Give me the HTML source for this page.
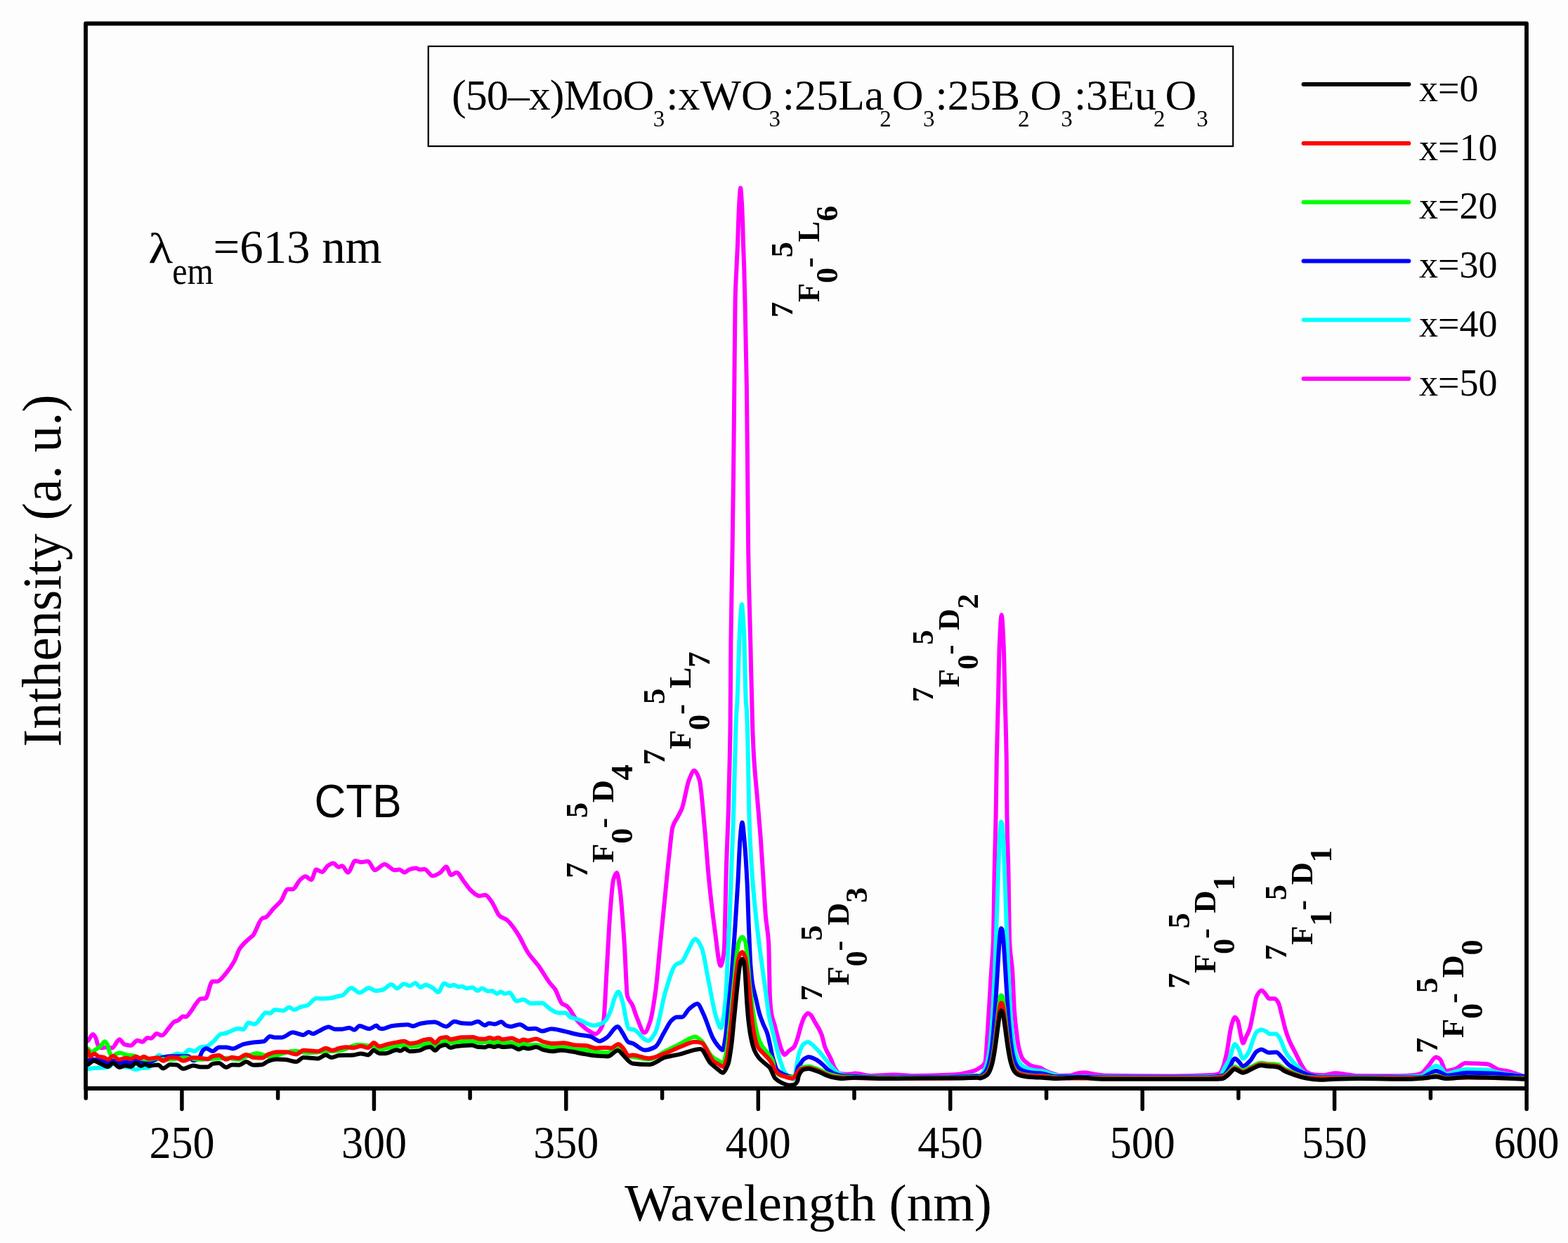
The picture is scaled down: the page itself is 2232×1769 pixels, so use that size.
<!DOCTYPE html>
<html><head><meta charset="utf-8"><title>Excitation spectra</title>
<style>
html,body{margin:0;padding:0;background:#fdfdfd;}
svg{display:block;}
text{font-family:"Liberation Serif","Times New Roman",serif;fill:#000;}
.pl{font-weight:bold;}
.sb{font-size:33px;}
.cv path{fill:none;stroke-width:6;stroke-linejoin:round;stroke-linecap:round;}
</style></head>
<body>
<svg width="2232" height="1769" viewBox="0 0 2232 1769">
<rect width="2232" height="1769" fill="#fdfdfd"/>
<g class="cv">
<path d="M123.5 1482C124 1481.7 124.6 1481.6 125.1 1481.2C127.5 1479.6 129.8 1472 132.2 1472C133.6 1472 134.9 1474.6 136.3 1477.1C137.3 1479 138.4 1485.9 139.4 1487.3C141.1 1489.6 142.8 1491.4 144.5 1491.4C146.5 1491.4 148.6 1490.4 150.6 1490.4C153.7 1490.4 156.7 1491.4 159.8 1491.4C163.2 1491.4 166.6 1479.2 170 1479.2C172.4 1479.2 174.7 1485.6 177.1 1486.3C180.2 1487.2 183.2 1487.9 186.3 1487.9C189.4 1487.9 192.4 1480.7 195.5 1480.7C197.9 1480.7 200.3 1482.8 202.7 1482.8C205.1 1482.8 207.4 1477.1 209.8 1477.1C211.5 1477.1 213.2 1477.7 214.9 1477.7C217.6 1477.7 220.4 1471 223.1 1471C225.5 1471 227.8 1473.6 230.2 1473.6C233.6 1473.6 237 1466.6 240.4 1462.9C243.1 1459.9 245.9 1454.7 248.6 1453.7C250 1453.2 251.3 1453.2 252.7 1452.7C255.4 1451.8 258.1 1446.5 260.8 1446.5C262.2 1446.5 263.5 1447 264.9 1447C266.9 1447 269 1442.9 271 1440.4C273.7 1437 276.5 1431.6 279.2 1428.2C281.2 1425.6 283.3 1421.8 285.3 1421.5C287.7 1421.2 290 1421.3 292.4 1421C295.7 1420.6 299 1396.8 302.3 1396.8C304.5 1396.8 306.8 1396.8 309 1396.8C313.1 1396.8 317.1 1390.2 321.2 1385.7C325.3 1381.1 329.4 1375.3 333.5 1367.9C336.1 1363.2 338.6 1354 341.2 1350.1C345.3 1343.9 349.4 1340.7 353.5 1336.8C355.7 1334.7 357.9 1333.6 360.1 1331.2C364.6 1326.2 369 1308.4 373.5 1306.7C375 1306.1 376.4 1306.1 377.9 1305.6C381.6 1304.2 385.3 1297.3 389 1293.4C392.7 1289.5 396.3 1286.8 400 1282.1C403.2 1277.9 406.5 1265.4 409.7 1265.4C412 1265.4 414.4 1265.4 416.7 1265.4C420.4 1265.4 424.1 1254.4 427.8 1251.5C430.1 1249.7 432.5 1247.3 434.8 1247.3C437.6 1247.3 440.3 1252.2 443.1 1252.2C445.4 1252.2 447.8 1237.6 450.1 1237.6C452.9 1237.6 455.6 1241 458.4 1241C461.2 1241 464 1233.8 466.8 1232C469.3 1230.4 471.9 1228.5 474.4 1228.5C477 1228.5 479.5 1234.1 482.1 1234.1C483.7 1234.1 485.4 1232.3 487 1232.3C489.8 1232.3 492.5 1241.7 495.3 1241.7C498.8 1241.7 502.2 1225 505.7 1225C508.5 1225 511.3 1227.1 514.1 1227.1C517.3 1227.1 520.6 1225.7 523.8 1225.7C527.1 1225.7 530.3 1238.3 533.6 1238.3C538.2 1238.3 542.9 1229.9 547.5 1229.9C552.1 1229.9 556.8 1238.3 561.4 1238.3C563.7 1238.3 566.1 1237.6 568.4 1237.6C570.9 1237.6 573.5 1241.7 576 1241.7C578.1 1241.7 580.2 1238.3 582.3 1237.6C585.5 1236.5 588.8 1235.5 592 1235.5C593.9 1235.5 595.7 1237.6 597.6 1237.6C599.9 1237.6 602.2 1236.9 604.5 1236.9C608.2 1236.9 612 1246.6 615.7 1246.6C619.4 1246.6 623.1 1244 626.8 1241.7C629.6 1240 632.3 1233.4 635.1 1233.4C637.4 1233.4 639.8 1245.2 642.1 1245.2C644.7 1245.2 647.2 1241.7 649.8 1241.7C653.3 1241.7 656.7 1250 660.2 1254.3C663.4 1258.3 666.7 1263.9 669.9 1266.8C674.1 1270.5 678.3 1275.1 682.5 1275.1C685.3 1275.1 688 1273.7 690.8 1273.7C693.9 1273.7 696.9 1279.4 700 1283.5C703.7 1288.4 707.5 1300.4 711.2 1303.6C714.8 1306.6 718.4 1306.9 722 1309.6C727.2 1313.6 732.4 1322 737.6 1330C742.4 1337.3 747.2 1349.3 752 1356.4C756.8 1363.5 761.6 1367.9 766.4 1374.4C772 1382 777.5 1392.3 783.1 1399.5C785.5 1402.6 787.9 1404.4 790.3 1408C793.5 1412.8 796.8 1425.7 800 1428.3C802.4 1430.2 804.7 1430.3 807.1 1432C811.9 1435.5 816.7 1447 821.5 1452.3C826.3 1457.6 831.1 1462.4 835.9 1465.5C839.9 1468.1 843.9 1471.5 847.9 1471.5C850.3 1471.5 852.7 1468 855.1 1464.3C856.4 1462.3 857.7 1459.7 859 1453.9C860.6 1446.8 862.2 1404.1 863.8 1378C865.4 1352.5 866.9 1318.8 868.5 1299C870.1 1279.2 871.6 1256.8 873.2 1251.6C874.8 1246.3 876.4 1242.1 878 1242.1C879.6 1242.1 881.1 1255.8 882.7 1267.4C884.8 1282.9 886.9 1315.1 889 1346.4C890.3 1366.3 891.7 1412.8 893 1417.5C895.4 1425.8 897.7 1425 900.1 1430.2C902.2 1434.8 904.3 1442.7 906.4 1447.6C910.1 1456.3 913.8 1469.7 917.5 1469.7C920.1 1469.7 922.8 1461.7 925.4 1453.9C928 1446.1 930.7 1428.7 933.3 1409.6C935.4 1394.3 937.5 1367.5 939.6 1346.4C941.7 1325.3 943.8 1304.3 945.9 1283.2C948 1262.1 950.1 1238.8 952.2 1220C954 1204.2 955.7 1182.9 957.5 1177C959.9 1168.9 962.4 1167.2 964.8 1162.4C966.8 1158.5 968.7 1155.8 970.7 1150.7C974.1 1141.9 977.5 1117.9 980.9 1109.7C983.4 1103.8 985.8 1096.6 988.3 1096.6C990.7 1096.6 993.2 1102.4 995.6 1109.7C998 1117 1000.5 1151.4 1002.9 1177C1004.8 1197.3 1006.8 1227.5 1008.7 1247.2C1011.6 1277.1 1014.6 1302.2 1017.5 1323.3C1020.3 1343.2 1023 1374.6 1025.8 1374.6C1027.4 1374.6 1029.1 1366.4 1030.7 1352.6C1031.8 1343.3 1032.9 1264.1 1034 1230C1034.9 1201.1 1035.9 1185.2 1036.8 1155C1037.4 1134.5 1038.1 1109.3 1038.7 1080C1039 1067.7 1039.2 1057.9 1039.5 1037.5C1039.8 1014.6 1040.1 938.3 1040.4 911.7C1041.1 849.7 1041.8 831.8 1042.5 785.8C1043 752.9 1043.5 719.4 1044 678C1044.4 642.1 1044.9 594 1045.3 552C1045.7 510 1046.2 443.7 1046.6 426.2C1047.2 400.6 1047.9 394.7 1048.5 380C1049 367.7 1049.6 358.3 1050.1 344.6C1050.4 336.1 1050.8 323.4 1051.1 315C1051.6 303.3 1052 291.8 1052.5 285C1053 277.2 1053.6 267.5 1054.1 267.5C1054.6 267.5 1055.2 277.2 1055.7 285C1056.2 291.8 1056.6 302 1057.1 315C1057.4 322.4 1057.6 336.1 1057.9 344.6C1058.3 358.4 1058.8 366.1 1059.2 380C1059.6 392.8 1060 409 1060.4 426.2C1061.2 462 1062.1 494.9 1062.9 552C1063.3 581.7 1063.8 633.7 1064.2 678C1064.5 712.1 1064.9 764.1 1065.2 785.8C1066.2 851 1067.2 870.4 1068.2 911.7C1069.2 954.3 1070.3 1009.3 1071.3 1037.5C1072 1055.7 1072.6 1069.4 1073.3 1080C1074.9 1104.9 1076.4 1117.3 1078 1136C1079.6 1154.7 1081.1 1171.2 1082.7 1192.3C1083.9 1208.9 1085.2 1229.4 1086.4 1248.4C1087.6 1266.9 1088.8 1290.7 1090 1304.6C1091.4 1320.9 1092.8 1319.9 1094.2 1343C1094.8 1352.9 1095.4 1410.1 1096 1420C1096.8 1433.8 1097.7 1440.2 1098.5 1444.6C1099.9 1451.8 1101.2 1453.6 1102.6 1458.5C1104.2 1464.4 1105.9 1471.5 1107.5 1477.3C1109.1 1483.1 1110.8 1489.9 1112.4 1493.7C1113.8 1496.9 1115.1 1501.1 1116.5 1501.1C1118.4 1501.1 1120.4 1497.8 1122.3 1496.2C1125 1493.9 1127.8 1493.1 1130.5 1489.6C1132.1 1487.5 1133.8 1482.2 1135.4 1477.3C1137 1472.4 1138.7 1464.2 1140.3 1459.3C1141.9 1454.4 1143.6 1449.3 1145.2 1447C1146.8 1444.7 1148.5 1442.1 1150.1 1442.1C1151.5 1442.1 1152.8 1443.4 1154.2 1444.6C1156.1 1446.3 1158 1451.2 1159.9 1454.4C1161.8 1457.7 1163.8 1460.5 1165.7 1464.2C1167.1 1466.8 1168.4 1469.4 1169.8 1473.2C1171.3 1477.3 1172.8 1486 1174.3 1490C1177.1 1497.5 1179.8 1500.7 1182.6 1506.7C1184.7 1511.2 1186.8 1518.3 1188.9 1521.3C1191 1524.2 1193 1527.1 1195.1 1527.6C1197.9 1528.3 1200.7 1528.8 1203.5 1528.8C1206.3 1528.8 1209.2 1528.6 1212 1528.4C1213.8 1528.3 1215.6 1527.5 1217.4 1527.5C1224.4 1527.5 1231.3 1531 1238.3 1531C1249.9 1531 1261.4 1529.6 1273 1529.6C1282.3 1529.6 1291.6 1531 1300.9 1531C1319.4 1531 1338 1530.5 1356.5 1529.6C1365.8 1529.2 1375.1 1527.3 1384.4 1524.7C1388.1 1523.7 1391.8 1521.7 1395.5 1519.1C1397.7 1517.5 1400 1516.8 1402.2 1512C1403.3 1509.6 1404.5 1486.5 1405.6 1471C1407.4 1446 1409.3 1410.8 1411.1 1382C1412 1367.3 1413 1363.1 1413.9 1339C1414.4 1325.2 1415 1269.7 1415.5 1244C1416.2 1210.2 1416.9 1196.1 1417.6 1160C1418 1139.4 1418.4 1099.2 1418.8 1078.7C1419.5 1044.6 1420.1 1026.4 1420.8 999.2C1421.4 973.4 1422.1 934 1422.7 919.6C1423.7 896.8 1424.7 875 1425.7 875C1426.7 875 1427.7 897.3 1428.7 919.6C1429.4 934.5 1430 972.7 1430.7 999.2C1431.4 1025.7 1432 1035.8 1432.7 1078.7C1432.9 1093.7 1433.2 1144.9 1433.4 1160C1434.1 1205.3 1434.8 1210.2 1435.5 1244C1436 1269.7 1436.6 1328.2 1437.1 1339C1438.4 1365.9 1439.8 1363.1 1441.1 1382C1442.1 1395.7 1443 1427.3 1444 1440C1444.9 1451.9 1445.8 1459.2 1446.7 1466.7C1447.8 1475.8 1448.9 1485.2 1450 1490C1451.9 1498.1 1453.7 1503.9 1455.6 1506.7C1457.1 1508.9 1458.5 1510.1 1460 1511.3C1462.8 1513.6 1465.5 1515.9 1468.3 1516.9C1472.5 1518.4 1476.7 1518.3 1480.9 1519.7C1483.2 1520.5 1485.5 1522.7 1487.8 1523.8C1491.5 1525.5 1495.3 1526.8 1499 1528C1502.2 1529.1 1505.5 1530.8 1508.7 1530.8C1513.3 1530.8 1518 1530.8 1522.6 1530.8C1525.9 1530.8 1529.1 1528.6 1532.4 1528C1536.1 1527.3 1539.8 1526.6 1543.5 1526.6C1548.1 1526.6 1552.8 1528.1 1557.4 1528.7C1564.4 1529.6 1571.3 1530.7 1578.3 1530.8C1608.4 1531.3 1638.6 1531.5 1668.7 1531.5C1687.3 1531.5 1705.8 1531.1 1724.4 1530.1C1728.1 1529.9 1731.8 1529.4 1735.5 1528C1737 1527.4 1738.5 1524.4 1740 1521.3C1742 1517.2 1744 1508.3 1746 1499.4C1748.3 1489.2 1750.6 1467.2 1752.9 1459.6C1754.6 1454.1 1756.2 1447.7 1757.9 1447.7C1759.2 1447.7 1760.6 1450 1761.9 1452.6C1763.2 1455.2 1764.6 1466 1765.9 1471.5C1767.1 1476.3 1768.2 1484.5 1769.4 1484.5C1770.9 1484.5 1772.3 1478.6 1773.8 1475.5C1775.5 1472 1777.1 1469.5 1778.8 1464.6C1780.5 1459.7 1782.1 1449.5 1783.8 1441.7C1785.5 1433.9 1787.1 1421.1 1788.8 1417.8C1791.1 1413.2 1793.4 1409.4 1795.7 1409.4C1797.4 1409.4 1799 1412.1 1800.7 1413.8C1802.7 1415.9 1804.7 1421.3 1806.7 1421.3C1809.3 1421.3 1812 1421.3 1814.6 1421.3C1816.3 1421.3 1817.9 1424 1819.6 1426.8C1821.3 1429.6 1822.9 1438.4 1824.6 1444.7C1826.3 1451 1827.9 1459 1829.6 1464.6C1831.6 1471.2 1833.5 1476.8 1835.5 1481.5C1838.5 1488.6 1841.5 1493.4 1844.5 1499.4C1847.1 1504.7 1849.8 1510.9 1852.4 1515.3C1854.7 1519.2 1857.1 1523.8 1859.4 1525.3C1862.7 1527.5 1866.1 1528.9 1869.4 1529.3C1874.4 1529.8 1879.3 1530.2 1884.3 1530.2C1889.5 1530.2 1894.8 1527.3 1900 1527.3C1904.9 1527.3 1909.9 1528.3 1914.8 1528.9C1920.8 1529.6 1926.9 1531 1932.9 1531C1952.4 1531.2 1971.8 1531.2 1991.3 1531.2C1998.3 1531.2 2005.2 1530.9 2012.2 1530.3C2015.9 1530 2019.6 1529 2023.3 1527.5C2026.6 1526.1 2029.8 1520.6 2033.1 1517C2036.8 1512.9 2040.5 1504.5 2044.2 1504.5C2046.1 1504.5 2047.9 1505.9 2049.8 1507.3C2052.6 1509.4 2055.3 1524 2058.1 1524C2062.7 1524 2067.4 1522.6 2072 1521.2C2076.6 1519.8 2081.3 1512.9 2085.9 1512.9C2091.5 1512.9 2097 1513.3 2102.6 1513.6C2107.2 1513.8 2111.9 1513.9 2116.5 1514.3C2122.5 1514.8 2128.6 1521.4 2134.6 1522.6C2137.9 1523.3 2141.1 1523.4 2144.4 1524C2149 1524.9 2153.7 1526.8 2158.3 1528.2C2162 1529.3 2165.7 1530.5 2169.4 1531.7" stroke="#ff00ff"/>
<path d="M123.5 1521C124 1521 124.6 1521 125.1 1521C128.5 1521 131.9 1520.2 135.3 1520C138.7 1519.8 142.1 1519.8 145.5 1519.5C148.9 1519.2 152.3 1518.9 155.7 1518C158.1 1517.4 160.5 1511.8 162.9 1511.8C164.9 1511.8 167 1513.1 169 1513.9C171.7 1515 174.4 1517.3 177.1 1518C179.8 1518.7 182.6 1518.9 185.3 1519.5C188 1520.1 190.8 1522 193.5 1522C196.2 1522 198.9 1520.2 201.6 1520C205 1519.7 208.4 1519.8 211.8 1519.5C213.9 1519.3 215.9 1514.4 218 1511.8C220.7 1508.4 223.4 1501.6 226.1 1501.6C228.1 1501.6 230.2 1504.7 232.2 1504.7C235.6 1504.7 239 1503.9 242.4 1503.2C245.8 1502.5 249.3 1499.6 252.7 1499.6C255.4 1499.6 258.1 1500.6 260.8 1500.6C263.5 1500.6 266.3 1494 269 1494C271.7 1494 274.4 1496 277.1 1496C279.8 1496 282.6 1491 285.3 1490.4C288 1489.8 290.8 1490 293.5 1489.4C296.9 1488.7 300.3 1485 303.7 1482.2C307.1 1479.4 310.5 1473.2 313.9 1472C317 1470.9 320 1470.9 323.1 1470C325.4 1469.3 327.7 1467.6 330 1466.7C333.1 1465.5 336.1 1463.7 339.2 1463.7C341.6 1463.7 343.9 1465.2 346.3 1465.2C348.7 1465.2 351.1 1455.5 353.5 1455.5C356.6 1455.5 359.6 1457.6 362.7 1457.6C365.4 1457.6 368.1 1452.3 370.8 1449.4C373.2 1446.8 375.6 1441.2 378 1441.2C380 1441.2 382.1 1442.2 384.1 1442.2C386.5 1442.2 388.8 1437.1 391.2 1437.1C395.3 1437.1 399.4 1438.2 403.5 1438.2C406.2 1438.2 408.9 1433.6 411.6 1433.6C414 1433.6 416.4 1437.1 418.8 1437.1C421.9 1437.1 424.9 1434 428 1433.1C431 1432.2 434.1 1432 437.1 1431C441.5 1429.5 446 1420.8 450.4 1420.8C453.1 1420.8 455.9 1421.3 458.6 1421.3C463 1421.3 467.4 1420.8 471.8 1420.3C474.9 1419.9 477.9 1418.5 481 1417.8C483 1417.4 485.1 1417.3 487.1 1416.7C491.4 1415.5 495.7 1405.9 500 1405.9C503.9 1405.9 507.9 1412.8 511.8 1412.8C516.2 1412.8 520.6 1405.9 525 1405.9C528.3 1405.9 531.5 1410 534.8 1410C538 1410 541.3 1409.4 544.5 1408.7C548.7 1407.8 552.8 1401 557 1401C559.8 1401 562.6 1406.6 565.4 1406.6C568.6 1406.6 571.9 1400.3 575.1 1400.3C577.9 1400.3 580.7 1403.1 583.5 1403.1C586 1403.1 588.6 1398.9 591.1 1398.9C593.7 1398.9 596.2 1405.2 598.8 1405.2C601.1 1405.2 603.4 1401.7 605.7 1401.7C609.4 1401.7 613.2 1404.4 616.9 1406.6C619.2 1407.9 621.5 1412.1 623.8 1412.1C626.6 1412.1 629.4 1399.6 632.2 1399.6C635 1399.6 637.7 1403.1 640.5 1403.1C642.4 1403.1 644.2 1401.7 646.1 1401.7C648.4 1401.7 650.8 1404.5 653.1 1404.5C654.5 1404.5 655.8 1403.8 657.2 1403.8C659.5 1403.8 661.9 1406.6 664.2 1406.6C667 1406.6 669.7 1405.2 672.5 1405.2C674.8 1405.2 677.2 1410 679.5 1410C681.8 1410 684.1 1406.6 686.4 1406.6C689.2 1406.6 692 1410.7 694.8 1410.7C696.7 1410.7 698.5 1410 700.4 1410C702.7 1410 705 1414.2 707.3 1414.2C709.2 1414.2 711 1411.4 712.9 1411.4C714.8 1411.4 716.6 1414.2 718.5 1414.2C720.8 1414.2 723.1 1412.8 725.4 1412.8C728.7 1412.8 731.9 1424.7 735.2 1424.7C738.4 1424.7 741.7 1422.6 744.9 1422.6C748.6 1422.6 752.3 1428.1 756 1428.1C761.1 1428.1 766.2 1427.4 771.3 1427.4C775.5 1427.4 779.6 1434.2 783.8 1436.5C787.5 1438.5 791.3 1441.4 795 1441.4C796.7 1441.4 798.3 1441.4 800 1441.4C801.6 1441.4 803.1 1441.4 804.7 1441.5C807.1 1441.6 809.5 1446.4 811.9 1447.5C815.9 1449.3 819.9 1449.8 823.9 1451.1C831.1 1453.5 838.3 1459.5 845.5 1459.5C850.3 1459.5 855.1 1457.5 859.9 1454.7C863.1 1452.8 866.3 1445.5 869.5 1438C871.3 1433.7 873.2 1423.9 875 1420C876.8 1416.2 878.5 1411.6 880.3 1411.6C882.3 1411.6 884.3 1419.4 886.3 1426C887.9 1431.2 889.4 1443.2 891 1450C892.2 1455.2 893.4 1463.2 894.6 1463.7C897 1464.8 899.5 1464.5 901.9 1465.2C908.7 1467.2 915.6 1481.3 922.4 1481.3C925.8 1481.3 929.3 1475.5 932.7 1469.6C937.6 1461.3 942.4 1426.5 947.3 1411.1C952.2 1395.7 957 1376.8 961.9 1373C964.8 1370.7 967.8 1371 970.7 1368.7C973.6 1366.4 976.6 1357.6 979.5 1352.6C982.9 1346.8 986.3 1336.5 989.7 1336.5C992.6 1336.5 995.6 1342.2 998.5 1348.2C1001.9 1355.2 1005.3 1380.2 1008.7 1396.5C1012.1 1412.9 1015.6 1435.7 1019 1446.2C1021.4 1453.6 1023.9 1463 1026.3 1463C1027.4 1463 1028.4 1455.8 1029.5 1450C1030.5 1444.5 1031.5 1436 1032.5 1425.1C1033.1 1418.9 1033.6 1410.2 1034.2 1400C1034.8 1389.8 1035.3 1372.9 1035.9 1360.7C1036.8 1340.5 1037.8 1326 1038.7 1304.6C1039.6 1283.2 1040.6 1254.6 1041.5 1229.7C1042.4 1204.8 1043.4 1185 1044.3 1154.9C1044.9 1134.5 1045.6 1101.5 1046.2 1080C1047 1054 1047.7 1026.2 1048.5 1012C1048.8 1006.5 1049.1 1004.4 1049.4 999C1050.5 978.5 1051.7 923.2 1052.8 900C1053.3 889.8 1053.8 881 1054.3 875C1054.8 868.6 1055.4 860 1055.9 860C1056.4 860 1057 868.6 1057.5 875C1058 881 1058.5 889.1 1059 900C1059.9 920.4 1060.9 984.5 1061.8 999C1062.2 1005.2 1062.6 1005.6 1063 1012C1063.7 1022.7 1064.3 1054.5 1065 1085C1065.4 1103.3 1065.8 1141.1 1066.2 1154.9C1067.3 1193.9 1068.5 1212 1069.6 1229.7C1071.8 1263.6 1073.9 1284 1076.1 1304.6C1079.2 1334.5 1082.4 1355.8 1085.5 1379.5C1087.4 1393.6 1089.2 1406.3 1091.1 1420C1092.2 1428.1 1093.3 1438.6 1094.4 1444.6C1096 1453.5 1097.7 1458.2 1099.3 1465.1C1101.2 1473.2 1103.2 1482.1 1105.1 1489.6C1107 1497 1108.9 1504.4 1110.8 1510.1C1113 1516.6 1115.1 1523.6 1117.3 1526.5C1120 1530.2 1122.8 1532.2 1125.5 1533.9C1127.2 1534.9 1128.8 1536.3 1130.5 1536.3C1131.6 1536.3 1132.6 1524 1133.7 1518.3C1135.1 1511 1136.4 1501.6 1137.8 1497.8C1140 1491.6 1142.2 1487 1144.4 1485.5C1146.3 1484.2 1148.2 1483.1 1150.1 1483.1C1152.3 1483.1 1154.5 1485.5 1156.7 1487.2C1157.7 1488 1158.6 1489.1 1159.6 1490C1161.7 1492.1 1163.8 1494 1165.9 1496.3C1168.7 1499.4 1171.5 1503.2 1174.3 1506.7C1177.1 1510.1 1179.8 1514 1182.6 1517.1C1185.4 1520.2 1188.2 1523.6 1191 1525.5C1193.8 1527.3 1196.5 1528.9 1199.3 1529.6C1202.2 1530.3 1205.1 1530.8 1208 1531C1222 1532.1 1236 1532.7 1250 1532.8C1266.7 1532.9 1283.3 1533 1300 1533C1316.7 1533 1333.3 1532.9 1350 1532.8C1363.8 1532.7 1377.5 1530.5 1391.3 1530.5C1392.5 1530.5 1393.8 1531 1395 1531C1395.5 1531 1396 1530 1396.5 1529.5C1397 1529 1397.5 1528.4 1398 1527.8C1398.5 1527.2 1399 1526.5 1399.5 1525.8C1400 1525 1400.5 1524.2 1401 1523.3C1401.5 1522.4 1402 1521.4 1402.5 1520.2C1403 1519.1 1403.5 1517.8 1404 1516.2C1404.5 1514.7 1405 1513 1405.5 1511C1406 1509 1406.5 1506.6 1407 1503.9C1407.5 1501.2 1408 1498 1408.5 1494.3C1409 1490.6 1409.5 1486.3 1410 1481.4C1410.5 1476.5 1411 1470.7 1411.5 1464.3C1412 1457.9 1412.5 1450.4 1413 1442.2C1413.5 1434 1414 1424.6 1414.5 1414.5C1415 1404.4 1415.5 1393.1 1416 1381.1C1416.5 1369.2 1417 1356 1417.5 1342.5C1418 1329.1 1418.5 1314.4 1419 1300.2C1419.5 1285.9 1420 1270.6 1420.5 1256.7C1421 1242.8 1421.5 1228.2 1422 1216.6C1422.5 1204.9 1423 1192.5 1423.5 1185.5C1424 1178.5 1424.5 1169.6 1425 1169.6C1425.5 1169.6 1426 1170.9 1426.5 1172.6C1427 1174.4 1427.5 1184.8 1428 1193.4C1428.5 1202 1429 1214.8 1429.5 1227.1C1430 1239.4 1430.5 1253.9 1431 1267.7C1431.5 1281.5 1432 1296.2 1432.5 1309.9C1433 1323.6 1433.5 1337.4 1434 1350C1434.5 1362.6 1435 1374.9 1435.5 1385.9C1436 1396.9 1436.5 1407.2 1437 1416.4C1437.5 1425.5 1438 1434 1438.5 1441.3C1439 1448.6 1439.5 1455.2 1440 1460.9C1440.5 1466.6 1441 1471.6 1441.5 1475.9C1442 1480.1 1442.5 1483.9 1443 1487C1443.5 1490.2 1444 1492.9 1444.5 1495.3C1445 1497.6 1445.5 1499.6 1446 1501.3C1446.5 1503 1447 1504.4 1447.5 1505.7C1448 1506.9 1448.5 1508 1449 1509C1449.5 1509.9 1450 1510.8 1450.5 1511.5C1451 1512.2 1451.5 1512.9 1452 1513.5C1452.5 1514.1 1453 1514.6 1453.5 1515.1C1454 1515.6 1454.5 1516 1455 1516.4C1455.5 1516.8 1456 1517.2 1456.5 1517.6C1457 1517.9 1457.5 1518.2 1458 1518.5C1458.5 1518.8 1459 1519.1 1459.5 1519.3C1460 1519.6 1460.5 1519.8 1461 1520C1461.5 1520.3 1462 1520.5 1462.5 1520.7C1463 1520.9 1463.5 1521 1464 1521.2C1464.5 1521.4 1465 1521.5 1465.5 1521.7C1466 1521.8 1466.5 1521.9 1467 1522.1C1467.5 1522.2 1468 1522.3 1468.5 1522.4C1469 1522.5 1469.5 1522.6 1470 1522.7C1470.5 1522.8 1471 1522.9 1471.5 1523C1472 1523.1 1472.5 1523.2 1473 1523.2C1473.5 1523.3 1474 1523.4 1474.5 1523.4C1475 1523.5 1475.5 1523.6 1476 1523.6C1476.5 1523.7 1477 1523.7 1477.5 1523.8C1478.3 1523.8 1479.2 1523.8 1480 1523.8C1489.6 1524 1499.1 1531 1508.7 1531.5C1520.3 1532.1 1531.9 1532.4 1543.5 1532.5C1575.7 1532.8 1607.8 1533 1640 1533C1672.8 1533 1705.5 1533 1738.3 1532C1738.9 1532 1739.4 1527.8 1740 1526.3C1743.3 1517.7 1746.7 1514.9 1750 1507.4C1752.6 1501.5 1755.3 1486 1757.9 1486C1759.6 1486 1761.2 1489.8 1762.9 1492.4C1765.1 1495.8 1767.2 1506.4 1769.4 1506.4C1772.2 1506.4 1775 1501.2 1777.8 1496.4C1779.8 1493 1781.8 1484.4 1783.8 1479.5C1785.5 1475.4 1787.1 1469.9 1788.8 1468.6C1791.1 1466.9 1793.4 1465.6 1795.7 1465.6C1797.7 1465.6 1799.7 1466.7 1801.7 1467.6C1803.7 1468.5 1805.7 1471.5 1807.7 1471.5C1810.7 1471.5 1813.6 1471.5 1816.6 1471.5C1818.6 1471.5 1820.6 1476.1 1822.6 1479.5C1824.9 1483.5 1827.3 1492.2 1829.6 1496.4C1832.9 1502.3 1836.2 1506.4 1839.5 1510.3C1842.8 1514.2 1846.2 1517.3 1849.5 1520.3C1852.8 1523.2 1856.1 1527.1 1859.4 1528.3C1866.3 1530.7 1873.1 1532.4 1880 1532.5C1906.7 1532.9 1933.3 1533 1960 1533C1981.1 1533 2002.2 1532.8 2023.3 1531.5C2026.5 1531.3 2029.8 1526.2 2033 1524C2036.7 1521.4 2040.5 1517 2044.2 1517C2046.1 1517 2048.1 1518 2050 1519C2052.7 1520.4 2055.4 1528.2 2058.1 1528.2C2062.7 1528.2 2067.4 1526 2072 1525C2076.6 1524 2081.3 1521.9 2085.9 1521.9C2096.1 1521.9 2106.3 1522.1 2116.5 1522.6C2122.5 1522.9 2128.6 1525.7 2134.6 1526.8C2146.2 1528.9 2157.8 1530.1 2169.4 1531.7" stroke="#00ffff"/>
<path d="M123.5 1509C124 1508.9 124.6 1508.9 125.1 1508.8C127.8 1508.5 130.6 1507.8 133.3 1507.8C136.7 1507.8 140.1 1509.1 143.5 1509.8C146.9 1510.5 150.3 1512.3 153.7 1512.3C156.1 1512.3 158.4 1509.8 160.8 1509.8C163.5 1509.8 166.3 1512.9 169 1512.9C171.7 1512.9 174.4 1511.8 177.1 1511.8C179.8 1511.8 182.6 1512.3 185.3 1512.3C188 1512.3 190.8 1509.8 193.5 1509.8C198.9 1509.8 204.4 1511.8 209.8 1511.8C213.9 1511.8 217.9 1509.1 222 1507.8C225.4 1506.7 228.8 1505.4 232.2 1504.7C235.6 1504 239 1503.2 242.4 1503.2C250.9 1503.2 259.5 1503.2 268 1503.2C270.4 1503.2 272.7 1509.3 275.1 1509.3C277.8 1509.3 280.6 1507.8 283.3 1505.7C285 1504.4 286.7 1497.3 288.4 1495.5C290.1 1493.7 291.8 1491.9 293.5 1491.9C296.6 1491.9 299.6 1496 302.7 1496C305.7 1496 308.8 1490.4 311.8 1490.4C315.2 1490.4 318.6 1490.4 322 1490.4C325.1 1490.4 328.1 1492.4 331.2 1492.4C336.2 1492.4 341.3 1487.3 346.3 1486.1C351.1 1484.9 355.8 1484.2 360.6 1483.6C365.7 1482.9 370.8 1483 375.9 1482C378.6 1481.4 381.4 1474.9 384.1 1474.9C386.5 1474.9 388.8 1476.4 391.2 1476.4C394.6 1476.4 398 1476.4 401.4 1476.4C406.5 1476.4 411.6 1469.3 416.7 1469.3C421.8 1469.3 426.9 1472.9 432 1472.9C434.4 1472.9 436.8 1468.8 439.2 1468.8C441.2 1468.8 443.3 1471.3 445.3 1471.3C448.4 1471.3 451.4 1468.5 454.5 1467.2C458.9 1465.3 463.4 1461.6 467.8 1461.6C470.8 1461.6 473.9 1464.7 476.9 1464.7C480.3 1464.7 483.7 1464.7 487.1 1464.7C490.5 1464.7 493.9 1462.7 497.3 1462.7C499.7 1462.7 502.1 1465.7 504.5 1465.7C506.9 1465.7 509.2 1460.1 511.6 1460.1C516.4 1460.1 521.1 1464.2 525.9 1464.2C529.3 1464.2 532.6 1459.5 536 1459.5C537.3 1459.5 538.7 1463 540 1463.4C541.4 1463.8 542.8 1464.2 544.2 1464.2C548.9 1464.2 553.7 1460.6 558.4 1460C565.6 1459.1 572.9 1458.3 580.1 1458.3C582.6 1458.3 585.1 1460.4 587.6 1460.4C591.2 1460.4 594.8 1457.3 598.4 1456.7C605.1 1455.6 611.8 1454.6 618.5 1454.6C624.1 1454.6 629.6 1460.9 635.2 1460.9C639.1 1460.9 642.9 1453.8 646.8 1453.8C650.7 1453.8 654.6 1456.1 658.5 1456.3C662.4 1456.5 666.3 1456.7 670.2 1456.7C673.5 1456.7 676.9 1453.8 680.2 1453.8C683.6 1453.8 686.9 1459.2 690.3 1459.2C692.2 1459.2 694.2 1456.3 696.1 1456.3C698.9 1456.3 701.6 1457.5 704.4 1457.5C707.5 1457.5 710.5 1454.2 713.6 1454.2C715.7 1454.2 717.9 1458.4 720 1459.2C722.5 1460.1 725 1460.9 727.5 1460.9C731.7 1460.9 735.8 1457.9 740 1457.9C744.2 1457.9 748.4 1464.2 752.6 1464.2C755.6 1464.2 758.7 1463.8 761.7 1463.8C765.1 1463.8 768.4 1467.5 771.8 1467.5C776.2 1467.5 780.7 1464.2 785.1 1464.2C790.9 1464.2 796.8 1466.3 802.6 1467.5C809.6 1469 816.5 1471.2 823.5 1472.5C829.1 1473.5 834.6 1473.7 840.2 1475C844.7 1476 849.1 1481.7 853.6 1481.7C856.9 1481.7 860.3 1478.9 863.6 1476.7C868.9 1473.3 874.1 1460.9 879.4 1460.9C881.6 1460.9 883.9 1466.8 886.1 1470C889.1 1474.2 892 1482.2 895 1483.4C896.7 1484.1 898.3 1484.2 900 1484.7C906 1486.7 912 1494.5 918 1494.5C922.9 1494.5 927.8 1492.6 932.7 1490C936.8 1487.8 940.9 1476.7 945 1470C948.7 1464 952.4 1455.2 956.1 1452C958.5 1449.9 961 1447.6 963.4 1447.6C965.8 1447.6 968.3 1447.6 970.7 1447.6C974.1 1447.6 977.5 1438.8 980.9 1436C984.8 1432.8 988.7 1428.6 992.6 1428.6C995.5 1428.6 998.5 1437.5 1001.4 1443.3C1005.9 1452.3 1010.5 1469.4 1015 1477.7C1017.3 1482 1019.7 1485.5 1022 1488.2C1024.2 1490.7 1026.4 1494.4 1028.6 1494.4C1029.9 1494.4 1031.2 1485.5 1032.5 1477.7C1033.7 1470.5 1034.9 1454.5 1036.1 1442.6C1037.3 1431.1 1038.4 1419.4 1039.6 1407.5C1040.2 1401.7 1040.7 1396.6 1041.3 1390C1042 1381.4 1042.8 1370.1 1043.5 1360C1044.3 1348.6 1045.2 1337.7 1046 1325.4C1047.5 1303.8 1048.9 1281.1 1050.4 1255.3C1051.4 1237.1 1052.5 1206.9 1053.5 1195C1054.5 1183.5 1055.5 1170.5 1056.5 1170.5C1057.5 1170.5 1058.5 1184.6 1059.5 1195C1060.8 1208.9 1062.2 1229 1063.5 1255.3C1064.4 1272.4 1065.2 1305.2 1066.1 1325.4C1066.9 1344.1 1067.7 1364.4 1068.5 1375C1069.4 1386.4 1070.2 1394.6 1071.1 1400C1072.7 1410.1 1074.4 1414.1 1076 1421.1C1077.6 1428.1 1079.3 1436.6 1080.9 1442.1C1082.8 1448.4 1084.6 1453 1086.5 1457.6C1088.4 1462.2 1090.2 1464.7 1092.1 1470.2C1093.5 1474.4 1094.9 1481.6 1096.3 1487.8C1097.5 1493.3 1098.8 1500.8 1100 1505.3C1100.3 1506.5 1100.7 1507.5 1101 1508.5C1102.6 1513.5 1104.3 1520.5 1105.9 1522.4C1109.7 1526.8 1113.5 1528.3 1117.3 1529.8C1120 1530.9 1122.8 1531.7 1125.5 1532.2C1127.4 1532.6 1129.4 1533 1131.3 1533C1132.9 1533 1134.6 1521.1 1136.2 1518.3C1137.1 1516.8 1137.9 1516.2 1138.8 1515C1140.5 1512.7 1142.3 1508.7 1144 1507.5C1146.4 1505.8 1148.9 1504.2 1151.3 1504.2C1154.8 1504.2 1158.2 1506.3 1161.7 1508C1164.5 1509.4 1167.3 1511.9 1170.1 1514.2C1172.9 1516.5 1175.6 1520 1178.4 1522.1C1181.2 1524.3 1184 1526.4 1186.8 1527.6C1189.6 1528.7 1192.3 1529.6 1195.1 1530.1C1198.4 1530.6 1201.7 1531 1205 1531.2C1220 1532.2 1235 1533.1 1250 1533.2C1266.7 1533.3 1283.3 1533.3 1300 1533.3C1316.7 1533.3 1333.3 1533.3 1350 1533.2C1363.7 1533.1 1377.3 1531.5 1391 1531.5C1392.3 1531.5 1393.7 1532 1395 1532C1395.5 1532 1396 1531.4 1396.5 1531.1C1397 1530.8 1397.5 1530.5 1398 1530.1C1398.5 1529.8 1399 1529.4 1399.5 1528.9C1400 1528.5 1400.5 1528 1401 1527.5C1401.5 1526.9 1402 1526.4 1402.5 1525.7C1403 1525 1403.5 1524.2 1404 1523.3C1404.5 1522.5 1405 1521.4 1405.5 1520.3C1406 1519.1 1406.5 1517.7 1407 1516.1C1407.5 1514.5 1408 1512.7 1408.5 1510.5C1409 1508.4 1409.5 1505.9 1410 1503C1410.5 1500.1 1411 1496.8 1411.5 1493C1412 1489.3 1412.5 1484.9 1413 1480.1C1413.5 1475.4 1414 1469.9 1414.5 1464C1415 1458.1 1415.5 1451.5 1416 1444.5C1416.5 1437.5 1417 1429.8 1417.5 1422C1418 1414.1 1418.5 1405.6 1419 1397.3C1419.5 1388.9 1420 1380.1 1420.5 1372C1421 1363.8 1421.5 1355.4 1422 1348.5C1422.5 1341.7 1423 1334.5 1423.5 1330.4C1424 1326.3 1424.5 1321.2 1425 1321.2C1425.5 1321.2 1426 1321.9 1426.5 1322.9C1427 1323.9 1427.5 1330 1428 1335C1428.5 1340 1429 1347.5 1429.5 1354.7C1430 1361.8 1430.5 1370.3 1431 1378.3C1431.5 1386.3 1432 1394.9 1432.5 1402.9C1433 1410.9 1433.5 1418.9 1434 1426.3C1434.5 1433.6 1435 1440.7 1435.5 1447.2C1436 1453.6 1436.5 1459.6 1437 1464.9C1437.5 1470.3 1438 1475.2 1438.5 1479.4C1439 1483.7 1439.5 1487.6 1440 1490.9C1440.5 1494.2 1441 1497.1 1441.5 1499.6C1442 1502.1 1442.5 1504.3 1443 1506.1C1443.5 1507.9 1444 1509.5 1444.5 1510.9C1445 1512.2 1445.5 1513.4 1446 1514.3C1446.5 1515.3 1447 1516.2 1447.5 1516.9C1448 1517.7 1448.5 1518.3 1449 1518.8C1449.5 1519.4 1450 1519.9 1450.5 1520.3C1451 1520.7 1451.5 1521.1 1452 1521.5C1452.5 1521.8 1453 1522.1 1453.5 1522.4C1454 1522.7 1454.5 1522.9 1455 1523.2C1455.5 1523.4 1456 1523.6 1456.5 1523.8C1457 1524 1457.5 1524.2 1458 1524.3C1458.5 1524.5 1459 1524.7 1459.5 1524.8C1460 1525 1460.5 1525.1 1461 1525.2C1461.5 1525.3 1462 1525.5 1462.5 1525.6C1463 1525.7 1463.5 1525.8 1464 1525.9C1464.5 1526 1465 1526 1465.5 1526.1C1466 1526.2 1466.5 1526.3 1467 1526.4C1467.5 1526.4 1468 1526.5 1468.5 1526.6C1469 1526.6 1469.5 1526.7 1470 1526.7C1470.5 1526.8 1471 1526.8 1471.5 1526.9C1472 1526.9 1472.5 1527 1473 1527C1473.5 1527 1474 1527.1 1474.5 1527.1C1475 1527.1 1475.5 1527.2 1476 1527.2C1476.5 1527.2 1477 1527.3 1477.5 1527.3C1478.3 1527.3 1479.2 1527.3 1480 1527.3C1487.2 1527.4 1494.5 1531.8 1501.7 1532C1534.5 1533 1567.2 1533.3 1600 1533.3C1640 1533.3 1680 1533.3 1720 1533.2C1726.7 1533.2 1733.3 1532.5 1740 1531C1741.3 1530.7 1742.5 1529.8 1743.8 1528.8C1745.9 1527.1 1747.9 1522.6 1750 1519.3C1752.6 1515.1 1755.3 1506.4 1757.9 1506.4C1759.6 1506.4 1761.2 1508.8 1762.9 1510.3C1765.1 1512.2 1767.2 1517.3 1769.4 1517.3C1772.9 1517.3 1776.3 1512.9 1779.8 1509.4C1782.8 1506.4 1785.8 1498.4 1788.8 1496.4C1791.1 1494.9 1793.4 1493.4 1795.7 1493.4C1799 1493.4 1802.4 1497.9 1805.7 1497.9C1809.3 1497.9 1813 1497.4 1816.6 1497.4C1819.3 1497.4 1821.9 1501.8 1824.6 1504.4C1827.9 1507.6 1831.2 1512.7 1834.5 1515.3C1839.5 1519.3 1844.5 1521.9 1849.5 1524.3C1854.5 1526.7 1859.4 1529 1864.4 1530.2C1869.6 1531.5 1874.8 1533 1880 1533C1906.7 1533.2 1933.3 1533.3 1960 1533.3C1981 1533.3 2002 1533.3 2023 1533C2027 1533 2031 1529.7 2035 1528C2038.1 1526.7 2041.1 1524 2044.2 1524C2046.8 1524 2049.4 1525.9 2052 1527C2054.7 1528.1 2057.3 1530.5 2060 1530.5C2069.6 1530.5 2079.1 1526.8 2088.7 1526.8C2100.3 1526.8 2111.9 1527.1 2123.5 1527.5C2132.3 1527.8 2141.2 1529.1 2150 1530C2156.5 1530.6 2162.9 1531.3 2169.4 1532" stroke="#0000ff"/>
<path d="M123.5 1492C124 1492.1 124.6 1492.2 125.1 1492.4C126.8 1493 128.5 1497.6 130.2 1497.6C132.2 1497.6 134.3 1494.9 136.3 1493.5C138.7 1491.8 141.1 1490.5 143.5 1488.4C145.4 1486.8 147.2 1482.2 149.1 1482.2C150.3 1482.2 151.5 1484.3 152.7 1486.3C154 1488.5 155.4 1497.5 156.7 1499.6C158.1 1501.7 159.4 1503.7 160.8 1503.7C162.5 1503.7 164.2 1500.1 165.9 1499.6C167.6 1499.1 169.3 1498.6 171 1498.6C174.4 1498.6 177.8 1501.1 181.2 1501.6C184.6 1502.1 188 1502.1 191.4 1502.7C194.8 1503.3 198.2 1506.1 201.6 1506.7C205 1507.3 208.4 1507.8 211.8 1507.8C215.2 1507.8 218.6 1506.2 222 1506.2C225.4 1506.2 228.8 1507 232.2 1507.2C235.6 1507.5 239 1507.8 242.4 1507.8C249.2 1507.8 256.1 1504.7 262.9 1504.7C269.7 1504.7 276.5 1507.8 283.3 1507.8C290.1 1507.8 296.9 1507 303.7 1506.7C310.5 1506.4 317.3 1505.7 324.1 1505.7C329.4 1505.7 334.7 1507.8 340 1507.8C344 1507.8 348 1504.4 352 1503C356.6 1501.4 361.1 1498.9 365.7 1498.9C372.5 1498.9 379.3 1504.5 386.1 1504.5C390.7 1504.5 395.4 1501.2 400 1500C406.3 1498.3 412.5 1495.8 418.8 1495.8C425.3 1495.8 431.7 1498.4 438.2 1498.4C446.4 1498.4 454.5 1496.8 462.7 1496.3C469.5 1495.9 476.3 1495.9 483.1 1495.3C491.9 1494.6 500.8 1487.1 509.6 1487.1C517.1 1487.1 524.5 1488.2 532 1489.7C534.7 1490.2 537.3 1493.4 540 1493.4C545 1493.4 550 1491.9 555 1490.9C558.3 1490.2 561.7 1488.8 565 1488.4C568.6 1488 572.3 1487.6 575.9 1487.6C579.2 1487.6 582.6 1489.6 585.9 1489.6C590.1 1489.6 594.2 1488.4 598.4 1487.6C602.9 1486.7 607.3 1484.2 611.8 1484.2C614.3 1484.2 616.8 1488 619.3 1488C624.3 1488 629.3 1481.7 634.3 1481.7C636.5 1481.7 638.8 1484.2 641 1484.2C646.3 1484.2 651.6 1482.3 656.9 1482.1C661.9 1481.9 666.9 1481.7 671.9 1481.7C675.2 1481.7 678.6 1483.8 681.9 1483.8C686.6 1483.8 691.4 1482.6 696.1 1482.6C698.6 1482.6 701.1 1484.2 703.6 1484.2C705.5 1484.2 707.5 1482.6 709.4 1482.6C711.3 1482.6 713.1 1484.2 715 1484.2C719.5 1484.2 723.9 1484.2 728.4 1484.2C731.7 1484.2 735.1 1487.6 738.4 1487.6C740.6 1487.6 742.8 1485.1 745 1485.1C747.2 1485.1 749.5 1487.2 751.7 1487.2C755.6 1487.2 759.5 1486.7 763.4 1486.7C766.7 1486.7 770.1 1488.6 773.4 1489.2C777.6 1489.9 781.8 1490.9 786 1490.9C791.5 1490.9 797.1 1490.1 802.6 1490.1C808.2 1490.1 813.7 1492.9 819.3 1493.4C824 1493.8 828.8 1493.8 833.5 1494.2C838.5 1494.6 843.6 1496.2 848.6 1496.8C854.2 1497.5 859.7 1498.4 865.3 1498.4C870 1498.4 874.7 1490.5 879.4 1490.5C881.9 1490.5 884.5 1493.9 887 1495.9C889.7 1498.1 892.3 1502.9 895 1503.4C896.7 1503.7 898.3 1503.8 900 1504C908 1505 915.9 1507.6 923.9 1507.6C931.7 1507.6 939.5 1499.8 947.3 1495.9C954.1 1492.5 961 1489 967.8 1485.7C975.1 1482.2 982.4 1475.4 989.7 1475.4C992.6 1475.4 995.6 1478.6 998.5 1481.3C1002.9 1485.3 1007.3 1496.8 1011.7 1501.8C1012.8 1503.1 1013.9 1504.2 1015 1505C1017.3 1506.7 1019.7 1507.7 1022 1509C1024.3 1510.3 1026.7 1512.8 1029 1512.8C1030.8 1512.8 1032.5 1503.7 1034.3 1495.3C1035.8 1488.4 1037.2 1473.2 1038.7 1460.2C1040.2 1447.2 1041.6 1431 1043.1 1416.3C1044 1407.6 1044.8 1399 1045.7 1390C1046.6 1380.3 1047.6 1367 1048.5 1360C1049.7 1351.2 1050.8 1342.8 1052 1340C1053.5 1336.5 1055 1333.5 1056.5 1333.5C1058 1333.5 1059.5 1336.1 1061 1340C1062 1342.6 1063 1355.1 1064 1365C1065 1374.5 1065.9 1390.6 1066.9 1400C1068.1 1411.3 1069.2 1419.6 1070.4 1428.1C1071.8 1438.3 1073.2 1448.8 1074.6 1456.2C1076.2 1464.8 1077.9 1472.5 1079.5 1477.2C1081.4 1482.6 1083.2 1486.2 1085.1 1489.2C1087.9 1493.7 1090.7 1495.8 1093.5 1499.7C1095.7 1502.7 1097.8 1504.1 1100 1509.6C1100.9 1511.8 1101.7 1521.8 1102.6 1523.2C1106.1 1528.8 1109.7 1530.6 1113.2 1531.4C1117.3 1532.3 1121.4 1533 1125.5 1533C1127.7 1533 1129.9 1531.9 1132.1 1530.6C1134 1529.5 1135.9 1524.3 1137.8 1522.4C1139.2 1521 1140.6 1519.4 1142 1519C1143 1518.7 1144 1518.5 1145 1518.4C1147.1 1518.1 1149.2 1517.8 1151.3 1517.8C1153.4 1517.8 1155.5 1518.7 1157.6 1519.3C1160.4 1520.1 1163.1 1521.1 1165.9 1522.2C1168.7 1523.3 1171.5 1525.1 1174.3 1526.3C1177.1 1527.5 1179.8 1528.7 1182.6 1529.5C1185.4 1530.3 1188.2 1531.1 1191 1531.5C1194 1532 1197 1532.4 1200 1532.5C1216.7 1533.3 1233.3 1533.7 1250 1533.8C1266.7 1533.9 1283.3 1534 1300 1534C1316.7 1534 1333.3 1533.9 1350 1533.8C1363.7 1533.7 1377.3 1533 1391 1533C1392.3 1533 1393.7 1533 1395 1533C1395.5 1533 1396 1532.7 1396.5 1532.5C1397 1532.4 1397.5 1532.2 1398 1532C1398.5 1531.8 1399 1531.6 1399.5 1531.3C1400 1531.1 1400.5 1530.8 1401 1530.5C1401.5 1530.2 1402 1529.9 1402.5 1529.5C1403 1529.2 1403.5 1528.8 1404 1528.3C1404.5 1527.8 1405 1527.2 1405.5 1526.6C1406 1525.9 1406.5 1525.2 1407 1524.3C1407.5 1523.4 1408 1522.4 1408.5 1521.2C1409 1520 1409.5 1518.6 1410 1517C1410.5 1515.4 1411 1513.6 1411.5 1511.5C1412 1509.4 1412.5 1507 1413 1504.4C1413.5 1501.7 1414 1498.7 1414.5 1495.5C1415 1492.2 1415.5 1488.5 1416 1484.7C1416.5 1480.8 1417 1476.5 1417.5 1472.2C1418 1467.8 1418.5 1463.1 1419 1458.5C1419.5 1453.9 1420 1449 1420.5 1444.5C1421 1440 1421.5 1435.3 1422 1431.5C1422.5 1427.7 1423 1423.7 1423.5 1421.5C1424 1419.2 1424.5 1416.4 1425 1416.4C1425.5 1416.4 1426 1416.8 1426.5 1417.3C1427 1417.9 1427.5 1421.3 1428 1424.1C1428.5 1426.8 1429 1431 1429.5 1435C1430 1438.9 1430.5 1443.6 1431 1448.1C1431.5 1452.5 1432 1457.3 1432.5 1461.7C1433 1466.1 1433.5 1470.6 1434 1474.7C1434.5 1478.8 1435 1482.7 1435.5 1486.3C1436 1489.8 1436.5 1493.2 1437 1496.1C1437.5 1499.1 1438 1501.8 1438.5 1504.2C1439 1506.5 1439.5 1508.7 1440 1510.5C1440.5 1512.4 1441 1514 1441.5 1515.4C1442 1516.8 1442.5 1518 1443 1519C1443.5 1520 1444 1520.9 1444.5 1521.7C1445 1522.4 1445.5 1523 1446 1523.6C1446.5 1524.1 1447 1524.6 1447.5 1525C1448 1525.4 1448.5 1525.8 1449 1526.1C1449.5 1526.4 1450 1526.7 1450.5 1526.9C1451 1527.2 1451.5 1527.4 1452 1527.6C1452.5 1527.8 1453 1527.9 1453.5 1528.1C1454 1528.2 1454.5 1528.4 1455 1528.5C1455.5 1528.7 1456 1528.8 1456.5 1528.9C1457 1529 1457.5 1529.1 1458 1529.2C1458.5 1529.3 1459 1529.4 1459.5 1529.5C1460 1529.6 1460.5 1529.6 1461 1529.7C1461.5 1529.8 1462 1529.9 1462.5 1529.9C1463 1530 1463.5 1530 1464 1530.1C1464.5 1530.2 1465 1530.2 1465.5 1530.3C1466 1530.3 1466.5 1530.4 1467 1530.4C1467.5 1530.4 1468 1530.5 1468.5 1530.5C1469 1530.6 1469.5 1530.6 1470 1530.6C1470.5 1530.7 1471 1530.7 1471.5 1530.7C1472 1530.7 1472.5 1530.8 1473 1530.8C1473.5 1530.8 1474 1530.8 1474.5 1530.9C1475 1530.9 1475.5 1530.9 1476 1530.9C1476.5 1530.9 1477 1531 1477.5 1531C1478.3 1531 1479.2 1531 1480 1531C1490 1531.1 1500 1533.7 1510 1533.8C1540 1534 1570 1534 1600 1534C1640 1534 1680 1534 1720 1534C1726.7 1534 1733.3 1533.5 1740 1532.5C1742.7 1532.1 1745.3 1529.1 1748 1527C1751.2 1524.5 1754.3 1518.2 1757.5 1518.2C1761.4 1518.2 1765.3 1523.2 1769.2 1523.2C1773.4 1523.2 1777.6 1519.7 1781.8 1518C1786.2 1516.2 1790.6 1512.8 1795 1512.8C1798.6 1512.8 1802.1 1513.8 1805.7 1514C1807.7 1514.1 1809.8 1514.2 1811.8 1514.3C1814.5 1514.5 1817.3 1514.9 1820 1515.5C1822.8 1516.2 1825.7 1519.5 1828.5 1521C1832.3 1523 1836.2 1524.5 1840 1526C1846.5 1528.5 1852.9 1532.2 1859.4 1532.8C1866.3 1533.4 1873.1 1533.8 1880 1533.8C1906.7 1534 1933.3 1534 1960 1534C1983.3 1534 2006.7 1533.9 2030 1533.5C2034.7 1533.4 2039.5 1530.5 2044.2 1530.5C2048.8 1530.5 2053.4 1534 2058 1534C2068.7 1534 2079.3 1533 2090 1533C2101.7 1533 2113.3 1533.3 2125 1533.5C2139.8 1533.8 2154.6 1534.2 2169.4 1534.5" stroke="#00ff00"/>
<path d="M123.5 1494C124 1494.5 124.6 1494.8 125.1 1495.5C126.1 1496.9 127.2 1503.7 128.2 1503.7C130.2 1503.7 132.3 1499.6 134.3 1499.6C136.3 1499.6 138.4 1503.2 140.4 1503.7C142.8 1504.3 145.2 1504.2 147.6 1504.7C149.6 1505.2 151.7 1507.8 153.7 1507.8C156.1 1507.8 158.4 1502.7 160.8 1502.7C163.5 1502.7 166.3 1507.8 169 1507.8C172.4 1507.8 175.8 1505.7 179.2 1505.7C181.6 1505.7 183.9 1507.2 186.3 1507.2C188.7 1507.2 191.1 1503.7 193.5 1503.7C195.5 1503.7 197.6 1506.2 199.6 1506.2C201.3 1506.2 203 1503.7 204.7 1503.7C207.1 1503.7 209.4 1506.7 211.8 1506.7C216.2 1506.7 220.7 1505.2 225.1 1505.2C227.5 1505.2 229.8 1509.8 232.2 1509.8C235.6 1509.8 239 1504.7 242.4 1504.7C245.5 1504.7 248.5 1504.9 251.6 1505.2C254.7 1505.5 257.7 1509.8 260.8 1509.8C265.6 1509.8 270.3 1505.2 275.1 1505.2C278.5 1505.2 281.9 1505.5 285.3 1505.7C288.7 1506 292.1 1507.2 295.5 1507.2C297.9 1507.2 300.3 1503.7 302.7 1503.2C305.7 1502.6 308.8 1502.1 311.8 1502.1C315.2 1502.1 318.6 1507.8 322 1507.8C324.7 1507.8 327.5 1504.7 330.2 1504.7C333.2 1504.7 336.2 1506 339.2 1506C342.9 1506 346.7 1500.9 350.4 1500.9C353.8 1500.9 357.2 1504.8 360.6 1505C365 1505.3 369.5 1505.5 373.9 1505.5C376.3 1505.5 378.6 1501.8 381 1500.9C385.4 1499.1 389.9 1497.3 394.3 1497.3C398.7 1497.3 403.2 1497.3 407.6 1497.3C412.3 1497.3 417.1 1500.4 421.8 1500.4C425.2 1500.4 428.6 1494.8 432 1494.8C438.8 1494.8 445.6 1496.3 452.4 1496.3C456.2 1496.3 459.9 1491.7 463.7 1491.7C466.8 1491.7 469.8 1494.8 472.9 1494.8C476.3 1494.8 479.7 1492.4 483.1 1491.7C486.5 1491 489.9 1490.2 493.3 1490.2C496.7 1490.2 500.1 1491.2 503.5 1491.2C506.9 1491.2 510.3 1488.7 513.7 1488.7C517.1 1488.7 520.5 1491.2 523.9 1491.2C526.6 1491.2 529.3 1484.1 532 1484.1C534.7 1484.1 537.3 1489.2 540 1489.2C544.2 1489.2 548.3 1486.8 552.5 1485.9C556.7 1485 560.8 1484.2 565 1483.4C568.4 1482.8 571.7 1481.7 575.1 1481.7C577.9 1481.7 580.6 1485.1 583.4 1485.1C587 1485.1 590.7 1484.2 594.3 1483.4C597.3 1482.7 600.4 1480.6 603.4 1480C606.5 1479.4 609.5 1478.8 612.6 1478.8C614.8 1478.8 617.1 1484.2 619.3 1484.2C621.8 1484.2 624.3 1478.2 626.8 1477.5C629.9 1476.6 632.9 1475.9 636 1475.9C637.7 1475.9 639.3 1479.2 641 1479.2C646.3 1479.2 651.6 1476.5 656.9 1476.3C662.5 1476.1 668 1475.9 673.6 1475.9C676.4 1475.9 679.1 1478.2 681.9 1478.4C684.7 1478.6 687.5 1478.8 690.3 1478.8C692.5 1478.8 694.7 1476.7 696.9 1476.7C698.9 1476.7 700.8 1478.4 702.8 1478.4C705 1478.4 707.2 1476.7 709.4 1476.7C711.3 1476.7 713.1 1479.2 715 1479.2C719.5 1479.2 723.9 1477.6 728.4 1477.6C732 1477.6 735.6 1481.7 739.2 1481.7C741.1 1481.7 743.1 1479.6 745 1479.6C747.2 1479.6 749.5 1480.9 751.7 1480.9C755.6 1480.9 759.5 1478.4 763.4 1478.4C766.7 1478.4 770.1 1481.7 773.4 1482.6C777.6 1483.7 781.8 1485.1 786 1485.1C791.5 1485.1 797.1 1484.2 802.6 1484.2C808.2 1484.2 813.7 1487.3 819.3 1487.6C824 1487.8 828.8 1487.8 833.5 1488C838.5 1488.3 843.6 1491.7 848.6 1491.7C852.8 1491.7 856.9 1490.9 861.1 1490.9C863.9 1490.9 866.6 1491.7 869.4 1491.7C873 1491.7 876.7 1485.9 880.3 1485.9C882.5 1485.9 884.8 1489.4 887 1491.7C889.7 1494.5 892.3 1502.6 895 1502.6C896.7 1502.6 898.3 1501.5 900 1501.5C908 1501.5 915.9 1506.2 923.9 1506.2C931.7 1506.2 939.5 1501.7 947.3 1498.8C954.1 1496.3 961 1492.5 967.8 1490C975.1 1487.3 982.4 1482.8 989.7 1482.8C992.6 1482.8 995.6 1483.4 998.5 1484.2C1002.9 1485.4 1007.3 1497.7 1011.7 1504.7C1012.8 1506.4 1013.9 1509 1015 1510C1017.3 1512.1 1019.7 1512.7 1022 1514C1024.5 1515.4 1027 1518.1 1029.5 1518.1C1031.4 1518.1 1033.3 1511.3 1035.2 1504C1036.7 1498.3 1038.1 1482.1 1039.6 1469C1040.8 1458.6 1041.9 1445.6 1043.1 1433.9C1044.3 1422.2 1045.4 1409.3 1046.6 1398.8C1047.6 1390.1 1048.5 1381 1049.5 1375C1050.5 1368.8 1051.5 1362.1 1052.5 1360C1053.8 1357.3 1055.2 1355 1056.5 1355C1057.8 1355 1059.2 1358.3 1060.5 1362C1061.5 1364.8 1062.5 1372.8 1063.5 1380C1064.3 1385.5 1065 1392.5 1065.8 1400C1066.6 1408.2 1067.5 1419.3 1068.3 1428.1C1069.2 1438 1070.2 1449.1 1071.1 1456.2C1072.3 1465 1073.4 1472.6 1074.6 1477.2C1076.2 1483.7 1077.9 1488.6 1079.5 1491.3C1082.1 1495.5 1084.6 1496.9 1087.2 1499.7C1090 1502.7 1092.8 1505.1 1095.6 1508.8C1097.1 1510.7 1098.5 1513 1100 1515.9C1100.9 1517.6 1101.7 1521.1 1102.6 1522.4C1104.8 1525.8 1107 1527.7 1109.2 1529C1111.9 1530.6 1114.6 1531.4 1117.3 1532.2C1121.1 1533.3 1125 1534.7 1128.8 1534.7C1130.4 1534.7 1132.1 1530.1 1133.7 1528.1C1135.6 1525.7 1137.6 1521.7 1139.5 1521.6C1140.3 1521.5 1141.2 1521.6 1142 1521.5C1143 1521.4 1144 1520.6 1145 1520.4C1147.1 1520.1 1149.2 1519.8 1151.3 1519.8C1153.4 1519.8 1155.5 1520.7 1157.6 1521.3C1160.4 1522.1 1163.1 1523.1 1165.9 1524.2C1168.7 1525.3 1171.5 1527.1 1174.3 1528.3C1177.1 1529.4 1179.8 1530.6 1182.6 1531.3C1185.4 1532 1188.2 1532.8 1191 1533C1194 1533.3 1197 1533.4 1200 1533.5C1216.7 1534.1 1233.3 1534.4 1250 1534.5C1266.7 1534.6 1283.3 1534.7 1300 1534.7C1316.7 1534.7 1333.3 1534.6 1350 1534.5C1363.7 1534.4 1377.3 1533.5 1391 1533.5C1392.3 1533.5 1393.7 1533.5 1395 1533.5C1395.5 1533.5 1396 1533.2 1396.5 1533.1C1397 1532.9 1397.5 1532.8 1398 1532.6C1398.5 1532.4 1399 1532.2 1399.5 1532C1400 1531.8 1400.5 1531.5 1401 1531.2C1401.5 1531 1402 1530.7 1402.5 1530.3C1403 1530 1403.5 1529.6 1404 1529.2C1404.5 1528.7 1405 1528.2 1405.5 1527.6C1406 1527 1406.5 1526.3 1407 1525.5C1407.5 1524.8 1408 1523.8 1408.5 1522.7C1409 1521.7 1409.5 1520.4 1410 1518.9C1410.5 1517.5 1411 1515.8 1411.5 1513.9C1412 1512 1412.5 1509.8 1413 1507.4C1413.5 1505 1414 1502.3 1414.5 1499.3C1415 1496.3 1415.5 1493 1416 1489.5C1416.5 1486 1417 1482.1 1417.5 1478.1C1418 1474.2 1418.5 1469.9 1419 1465.7C1419.5 1461.5 1420 1457 1420.5 1452.9C1421 1448.8 1421.5 1444.6 1422 1441.1C1422.5 1437.7 1423 1434 1423.5 1432C1424 1429.9 1424.5 1427.3 1425 1427.3C1425.5 1427.3 1426 1427.7 1426.5 1428.2C1427 1428.7 1427.5 1431.8 1428 1434.3C1428.5 1436.8 1429 1440.6 1429.5 1444.2C1430 1447.9 1430.5 1452.1 1431 1456.2C1431.5 1460.2 1432 1464.5 1432.5 1468.6C1433 1472.6 1433.5 1476.6 1434 1480.4C1434.5 1484.1 1435 1487.7 1435.5 1490.9C1436 1494.1 1436.5 1497.2 1437 1499.9C1437.5 1502.6 1438 1505 1438.5 1507.2C1439 1509.3 1439.5 1511.3 1440 1513C1440.5 1514.6 1441 1516.1 1441.5 1517.4C1442 1518.6 1442.5 1519.7 1443 1520.7C1443.5 1521.6 1444 1522.4 1444.5 1523.1C1445 1523.7 1445.5 1524.3 1446 1524.8C1446.5 1525.3 1447 1525.8 1447.5 1526.1C1448 1526.5 1448.5 1526.8 1449 1527.1C1449.5 1527.4 1450 1527.6 1450.5 1527.8C1451 1528.1 1451.5 1528.3 1452 1528.4C1452.5 1528.6 1453 1528.8 1453.5 1528.9C1454 1529.1 1454.5 1529.2 1455 1529.3C1455.5 1529.4 1456 1529.5 1456.5 1529.6C1457 1529.7 1457.5 1529.8 1458 1529.9C1458.5 1530 1459 1530.1 1459.5 1530.2C1460 1530.2 1460.5 1530.3 1461 1530.4C1461.5 1530.4 1462 1530.5 1462.5 1530.6C1463 1530.6 1463.5 1530.7 1464 1530.7C1464.5 1530.8 1465 1530.8 1465.5 1530.9C1466 1530.9 1466.5 1530.9 1467 1531C1467.5 1531 1468 1531 1468.5 1531.1C1469 1531.1 1469.5 1531.2 1470 1531.2C1470.5 1531.2 1471 1531.2 1471.5 1531.3C1472 1531.3 1472.5 1531.3 1473 1531.3C1473.5 1531.4 1474 1531.4 1474.5 1531.4C1475 1531.4 1475.5 1531.4 1476 1531.4C1476.5 1531.5 1477 1531.5 1477.5 1531.5C1478.3 1531.5 1479.2 1531.5 1480 1531.5C1490 1531.6 1500 1534.4 1510 1534.5C1540 1534.7 1570 1534.7 1600 1534.7C1640 1534.7 1680 1534.7 1720 1534.7C1726.7 1534.7 1733.3 1534.1 1740 1533C1742.7 1532.6 1745.3 1530.3 1748 1528.5C1751.2 1526.4 1754.3 1520.4 1757.5 1520.4C1761.4 1520.4 1765.3 1525.4 1769.2 1525.4C1773.4 1525.4 1777.6 1521.7 1781.8 1520C1786.2 1518.2 1790.6 1515 1795 1515C1798.6 1515 1802.1 1515.7 1805.7 1516C1807.7 1516.2 1809.8 1516.3 1811.8 1516.5C1814.5 1516.8 1817.3 1517.1 1820 1517.7C1822.8 1518.4 1825.7 1521.6 1828.5 1523C1832.3 1524.9 1836.2 1526.4 1840 1527.7C1846.5 1530 1852.9 1533 1859.4 1533.5C1866.3 1534.1 1873.1 1534.5 1880 1534.5C1906.7 1534.7 1933.3 1534.7 1960 1534.7C1983.3 1534.7 2006.7 1534.6 2030 1534.3C2034.7 1534.2 2039.5 1531.5 2044.2 1531.5C2048.8 1531.5 2053.4 1534.5 2058 1534.5C2068.7 1534.5 2079.3 1533.5 2090 1533.5C2101.7 1533.5 2113.3 1533.8 2125 1534C2139.8 1534.3 2154.6 1534.7 2169.4 1535" stroke="#ff0000"/>
<path d="M123.5 1515C124 1515 124.6 1515 125.1 1514.9C127.8 1514.6 130.6 1509.8 133.3 1509.8C136.7 1509.8 140.1 1512.5 143.5 1513.9C146.9 1515.3 150.3 1518 153.7 1518C156.1 1518 158.4 1512.9 160.8 1512.9C163.9 1512.9 166.9 1519 170 1519C172.7 1519 175.5 1516.4 178.2 1516.4C180.9 1516.4 183.6 1518 186.3 1518C188.7 1518 191.1 1512.9 193.5 1512.9C195.9 1512.9 198.2 1516.9 200.6 1516.9C202.6 1516.9 204.7 1514.4 206.7 1514.4C208.4 1514.4 210.1 1516.9 211.8 1516.9C216.2 1516.9 220.7 1515.4 225.1 1515.4C227.5 1515.4 229.8 1520.5 232.2 1520.5C235.6 1520.5 239 1514.9 242.4 1514.9C245.5 1514.9 248.5 1515.1 251.6 1515.4C254.7 1515.7 257.7 1521 260.8 1521C265.6 1521 270.3 1516.4 275.1 1516.4C278.5 1516.4 281.9 1518.5 285.3 1518.5C288.7 1518.5 292.1 1518.5 295.5 1518.5C297.9 1518.5 300.3 1514.4 302.7 1513.9C305.7 1513.3 308.8 1512.9 311.8 1512.9C315.2 1512.9 318.6 1519 322 1519C324.7 1519 327.5 1515.4 330.2 1515.4C333.5 1515.4 336.9 1515.7 340.2 1515.7C343.6 1515.7 347 1511.1 350.4 1511.1C353.8 1511.1 357.2 1515.7 360.6 1515.7C364.7 1515.7 368.8 1515.5 372.9 1515.2C375.6 1515 378.3 1511.5 381 1510.6C385.1 1509.2 389.2 1507.6 393.3 1507.6C397.7 1507.6 402.1 1507.8 406.5 1508.1C411.6 1508.4 416.7 1511.1 421.8 1511.1C425.2 1511.1 428.6 1505 432 1505C438.8 1505 445.6 1506.5 452.4 1506.5C456.2 1506.5 459.9 1501.4 463.7 1501.4C466.4 1501.4 469.1 1505 471.8 1505C475.6 1505 479.3 1502.1 483.1 1501.9C489.9 1501.6 496.7 1501.7 503.5 1501.4C506.9 1501.2 510.3 1499.4 513.7 1499.4C517.1 1499.4 520.5 1501.4 523.9 1501.4C526.6 1501.4 529.3 1494.8 532 1494.8C534.7 1494.8 537.3 1499.2 540 1499.2C542.8 1499.2 545.5 1499.2 548.3 1499.2C553.9 1499.2 559.4 1494.2 565 1494.2C566.7 1494.2 568.3 1495.5 570 1495.5C572 1495.5 573.9 1492.6 575.9 1492.6C578.4 1492.6 580.9 1496.3 583.4 1496.3C587.9 1496.3 592.3 1495.8 596.8 1495.1C600.1 1494.6 603.5 1491.6 606.8 1490.9C608.7 1490.5 610.7 1490.1 612.6 1490.1C614.8 1490.1 617.1 1495.1 619.3 1495.1C621.5 1495.1 623.8 1490.1 626 1489.2C628.8 1488.1 631.5 1487.1 634.3 1487.1C636.5 1487.1 638.8 1490.9 641 1490.9C643.5 1490.9 646 1489.5 648.5 1489.2C652.7 1488.6 656.8 1488.2 661 1488C664.6 1487.8 668.3 1487.6 671.9 1487.6C674.7 1487.6 677.4 1489.9 680.2 1490.1C683.6 1490.3 686.9 1490.5 690.3 1490.5C692.2 1490.5 694.2 1488.4 696.1 1488.4C698.6 1488.4 701.1 1490.1 703.6 1490.1C705.5 1490.1 707.5 1488.4 709.4 1488.4C711.3 1488.4 713.1 1490.1 715 1490.1C719.5 1490.1 723.9 1489.2 728.4 1489.2C731.7 1489.2 735.1 1493.4 738.4 1493.4C740.6 1493.4 742.8 1490.9 745 1490.9C747.2 1490.9 749.5 1492.6 751.7 1492.6C755.6 1492.6 759.5 1490.1 763.4 1490.1C766.7 1490.1 770.1 1493.4 773.4 1494.2C777.6 1495.2 781.8 1496.3 786 1496.3C790.2 1496.3 794.3 1494.7 798.5 1494.7C804.1 1494.7 809.6 1495.9 815.2 1496.8C820.8 1497.7 826.3 1499.2 831.9 1500.1C837.5 1501 843 1502.2 848.6 1502.6C854.2 1503 859.7 1503.4 865.3 1503.4C870 1503.4 874.7 1495.1 879.4 1495.1C882.5 1495.1 885.5 1500.4 888.6 1503.4C890.7 1505.5 892.9 1508.4 895 1510.1C896.7 1511.5 898.3 1513.3 900 1513.5C908 1514.6 915.9 1515 923.9 1515C931.7 1515 939.5 1506.9 947.3 1504.7C954.1 1502.7 961 1501.9 967.8 1500.3C977.5 1498.1 987.3 1493 997 1493C1001.9 1493 1006.8 1508.6 1011.7 1513.5C1012.8 1514.6 1013.9 1515.4 1015 1516.3C1017.3 1518.2 1019.7 1520.3 1022 1522C1024.3 1523.7 1026.7 1526.8 1029 1526.8C1030.5 1526.8 1032 1523.6 1033.5 1521C1034.6 1519.1 1035.8 1516.6 1036.9 1512.8C1038.4 1507.8 1039.8 1497.6 1041.3 1486.5C1042.5 1477.7 1043.6 1463.1 1044.8 1451.4C1046 1439.7 1047.1 1427.8 1048.3 1416.3C1049 1409.1 1049.8 1401.6 1050.5 1395C1051.2 1389 1051.8 1382.2 1052.5 1378C1053.2 1373.8 1053.8 1369.5 1054.5 1368C1055.2 1366.5 1055.8 1365 1056.5 1365C1057.2 1365 1057.8 1366.3 1058.5 1368C1059.1 1369.5 1059.7 1374.3 1060.3 1380C1060.7 1384.1 1061.2 1393.1 1061.6 1400C1062.2 1409 1062.7 1420.4 1063.3 1428.1C1064.1 1439.4 1065 1449.2 1065.8 1456.2C1066.9 1465.1 1067.9 1472.1 1069 1477.2C1070.6 1484.9 1072.3 1491 1073.9 1494.8C1076 1499.7 1078.1 1502.7 1080.2 1505.3C1083.2 1509 1086.3 1511 1089.3 1513.8C1091.4 1515.7 1093.5 1516.9 1095.6 1519.4C1098.2 1522.5 1100.8 1532.1 1103.4 1534.7C1106.7 1538 1109.9 1539.8 1113.2 1541.2C1116.8 1542.7 1120.3 1544.5 1123.9 1544.5C1126.1 1544.5 1128.3 1544.2 1130.5 1543.7C1132.1 1543.3 1133.8 1541.5 1135.4 1538C1135.8 1537.1 1136.3 1532.9 1136.7 1531.7C1138.1 1527.7 1139.5 1525.5 1140.9 1524.2C1142.3 1523 1143.6 1521.9 1145 1521.7C1147.1 1521.3 1149.2 1521.1 1151.3 1521.1C1153.4 1521.1 1155.5 1522 1157.6 1522.6C1160.4 1523.4 1163.1 1524.4 1165.9 1525.5C1168.7 1526.6 1171.5 1528.4 1174.3 1529.6C1177.1 1530.7 1179.8 1531.9 1182.6 1532.6C1185.4 1533.3 1188.2 1533.9 1191 1534.2C1193.8 1534.5 1196.5 1534.9 1199.3 1534.9C1205.3 1534.9 1211.4 1533.8 1217.4 1533.8C1231.3 1533.8 1245.2 1535.1 1259.1 1535.1C1277.7 1535.1 1296.2 1534.4 1314.8 1534.4C1333.4 1534.4 1351.9 1534.4 1370.5 1534.4C1377.4 1534.4 1384.4 1533.8 1391.3 1533.8C1392.5 1533.8 1393.8 1534.5 1395 1534.5C1395.5 1534.5 1396 1534.3 1396.5 1534.1C1397 1534 1397.5 1533.8 1398 1533.7C1398.5 1533.5 1399 1533.4 1399.5 1533.2C1400 1533 1400.5 1532.7 1401 1532.5C1401.5 1532.3 1402 1532 1402.5 1531.7C1403 1531.4 1403.5 1531.1 1404 1530.7C1404.5 1530.3 1405 1529.8 1405.5 1529.3C1406 1528.7 1406.5 1528.1 1407 1527.4C1407.5 1526.7 1408 1525.8 1408.5 1524.8C1409 1523.9 1409.5 1522.7 1410 1521.4C1410.5 1520.1 1411 1518.6 1411.5 1516.9C1412 1515.1 1412.5 1513.2 1413 1511C1413.5 1508.8 1414 1506.3 1414.5 1503.6C1415 1500.9 1415.5 1497.9 1416 1494.7C1416.5 1491.5 1417 1488 1417.5 1484.4C1418 1480.8 1418.5 1476.9 1419 1473.1C1419.5 1469.3 1420 1465.2 1420.5 1461.5C1421 1457.8 1421.5 1453.9 1422 1450.8C1422.5 1447.7 1423 1444.4 1423.5 1442.5C1424 1440.7 1424.5 1438.3 1425 1438.3C1425.5 1438.3 1426 1438.6 1426.5 1439.1C1427 1439.6 1427.5 1442.4 1428 1444.7C1428.5 1447 1429 1450.4 1429.5 1453.7C1430 1457 1430.5 1460.9 1431 1464.6C1431.5 1468.3 1432 1472.2 1432.5 1475.8C1433 1479.5 1433.5 1483.2 1434 1486.6C1434.5 1490 1435 1493.2 1435.5 1496.2C1436 1499.1 1436.5 1501.9 1437 1504.3C1437.5 1506.8 1438 1509.1 1438.5 1511C1439 1513 1439.5 1514.8 1440 1516.3C1440.5 1517.8 1441 1519.1 1441.5 1520.3C1442 1521.4 1442.5 1522.4 1443 1523.3C1443.5 1524.1 1444 1524.9 1444.5 1525.5C1445 1526.1 1445.5 1526.7 1446 1527.1C1446.5 1527.6 1447 1528 1447.5 1528.3C1448 1528.7 1448.5 1529 1449 1529.2C1449.5 1529.5 1450 1529.7 1450.5 1529.9C1451 1530.1 1451.5 1530.3 1452 1530.5C1452.5 1530.6 1453 1530.8 1453.5 1530.9C1454 1531 1454.5 1531.2 1455 1531.3C1455.5 1531.4 1456 1531.5 1456.5 1531.6C1457 1531.7 1457.5 1531.8 1458 1531.9C1458.5 1532 1459 1532 1459.5 1532.1C1460 1532.2 1460.5 1532.2 1461 1532.3C1461.5 1532.4 1462 1532.4 1462.5 1532.5C1463 1532.5 1463.5 1532.6 1464 1532.7C1464.5 1532.7 1465 1532.7 1465.5 1532.8C1466 1532.8 1466.5 1532.9 1467 1532.9C1467.5 1533 1468 1533 1468.5 1533C1469 1533.1 1469.5 1533.1 1470 1533.1C1470.5 1533.2 1471 1533.2 1471.5 1533.2C1472 1533.2 1472.5 1533.3 1473 1533.3C1473.5 1533.3 1474 1533.3 1474.5 1533.4C1475 1533.4 1475.5 1533.4 1476 1533.4C1476.5 1533.4 1477 1533.5 1477.5 1533.5C1478.3 1533.5 1479.2 1533.5 1480 1533.5C1487.2 1533.6 1494.5 1535 1501.7 1535C1513.3 1535 1524.9 1533.6 1536.5 1533.6C1548.1 1533.6 1559.7 1535.7 1571.3 1535.7C1622.3 1535.7 1673.4 1535.7 1724.4 1535.7C1729.6 1535.7 1734.8 1535.6 1740 1535.2C1742.7 1535 1745.3 1532 1748 1530C1751.2 1527.6 1754.3 1521.7 1757.5 1521.7C1761.4 1521.7 1765.3 1526.7 1769.2 1526.7C1773.4 1526.7 1777.6 1523.2 1781.8 1521.5C1786.2 1519.7 1790.6 1516.3 1795 1516.3C1798.6 1516.3 1802.1 1517.3 1805.7 1517.5C1807.7 1517.6 1809.8 1517.7 1811.8 1517.8C1814.5 1518 1817.3 1518.4 1820 1519C1822.8 1519.7 1825.7 1523 1828.5 1524.4C1832.3 1526.3 1836.2 1527.7 1840 1529C1846.5 1531.2 1852.9 1533.5 1859.4 1534.5C1866 1535.6 1872.7 1536.7 1879.3 1536.7C1886.2 1536.7 1893.1 1535.9 1900 1535.7C1911.9 1535.4 1923.8 1535.1 1935.7 1535.1C1958.9 1535.1 1982 1535.8 2005.2 1535.8C2012.2 1535.8 2019.1 1535 2026.1 1534.4C2032.1 1533.9 2038.2 1532.4 2044.2 1532.4C2048.8 1532.4 2053.5 1535.1 2058.1 1535.1C2068.3 1535.1 2078.5 1533 2088.7 1533C2100.3 1533 2111.9 1533.4 2123.5 1533.7C2138.8 1534.1 2154.1 1535.1 2169.4 1535.8" stroke="#000000"/>
</g>
<rect x="122" y="33.5" width="2051" height="1515.5" fill="none" stroke="#000" stroke-width="5.8" stroke-linejoin="round"/>
<path d="M122.2 1549 V1563 M258.9 1549 V1578.5 M395.6 1549 V1563 M532.4 1549 V1578.5 M669.1 1549 V1563 M805.8 1549 V1578.5 M942.6 1549 V1563 M1079.3 1549 V1578.5 M1216 1549 V1563 M1352.7 1549 V1578.5 M1489.5 1549 V1563 M1626.2 1549 V1578.5 M1762.9 1549 V1563 M1899.6 1549 V1578.5 M2036.4 1549 V1563 M2173.1 1549 V1578.5" stroke="#000" stroke-width="5.5" stroke-linecap="round" fill="none"/>
<g font-size="62">
<text transform="translate(258.9 1647.5) scale(1 1.07)" text-anchor="middle">250</text>
<text transform="translate(532.4 1647.5) scale(1 1.07)" text-anchor="middle">300</text>
<text transform="translate(805.8 1647.5) scale(1 1.07)" text-anchor="middle">350</text>
<text transform="translate(1079.3 1647.5) scale(1 1.07)" text-anchor="middle">400</text>
<text transform="translate(1352.7 1647.5) scale(1 1.07)" text-anchor="middle">450</text>
<text transform="translate(1626.2 1647.5) scale(1 1.07)" text-anchor="middle">500</text>
<text transform="translate(1899.6 1647.5) scale(1 1.07)" text-anchor="middle">550</text>
<text transform="translate(2173.1 1647.5) scale(1 1.07)" text-anchor="middle">600</text>
</g>
<text transform="translate(889.3 1736.5) scale(1.031 1)" font-size="73">Wavelength (nm)</text>
<g transform="translate(85.5 1063) rotate(-90) scale(1.012 1.04)"><text x="0" y="0" font-size="75">Inthensity (a. u.)</text></g>
<rect x="609.7" y="65.9" width="1145.5" height="142.2" fill="none" stroke="#000" stroke-width="2.2"/>
<text font-size="62"><tspan x="643.1" y="155.5" letter-spacing="-1">(50&#8211;x)MoO</tspan><tspan x="929.8" y="179.7" font-size="33">3</tspan><tspan x="948.2" y="155.5">:xWO</tspan><tspan x="1094.4" y="179.7" font-size="33">3</tspan><tspan x="1113.7" y="155.5">:25La</tspan><tspan x="1252.3" y="179.7" font-size="33">2</tspan><tspan x="1269.7" y="155.5">O</tspan><tspan x="1314" y="179.7" font-size="33">3</tspan><tspan x="1331.6" y="155.5">:25B</tspan><tspan x="1448.9" y="179.7" font-size="33">2</tspan><tspan x="1466.5" y="155.5">O</tspan><tspan x="1510.3" y="179.7" font-size="33">3</tspan><tspan x="1528.9" y="155.5">:3Eu</tspan><tspan x="1641.9" y="179.7" font-size="33">2</tspan><tspan x="1658.6" y="155.5">O</tspan><tspan x="1703.3" y="179.7" font-size="33">3</tspan></text>
<text transform="translate(211.3 374.3) scale(1.1 0.93)" font-size="65.5">&#955;</text><text transform="translate(245.3 403.5) scale(0.96 1.08)" font-size="50">em</text><text transform="translate(303.6 374.3) scale(1.02 1.045)" font-size="65.5">=613 nm</text>
<text transform="translate(447.6 1162.7) scale(1 1.09)" font-size="62" style="font-family:'Liberation Sans',Arial,sans-serif">CTB</text>
<g transform="translate(1165.6 452) rotate(-90)"><text class="pl" font-size="44.6" letter-spacing="-0.3"><tspan dy="-37.6">7</tspan><tspan dy="37.6">F</tspan><tspan dy="26.4">0</tspan><tspan dy="-26.4">-</tspan><tspan dy="-37.6">5</tspan><tspan dy="37.6">L</tspan><tspan dy="26.4">6</tspan></text></g>
<g transform="translate(1364.5 999.3) rotate(-90)"><text class="pl" font-size="42.5" letter-spacing="-0.3"><tspan dy="-37">7</tspan><tspan dy="37">F</tspan><tspan dy="27">0</tspan><tspan dy="-27">-</tspan><tspan dy="-37">5</tspan><tspan dy="37">D</tspan><tspan dy="27">2</tspan></text></g>
<g transform="translate(983.4 1088.8) rotate(-90)"><text class="pl" font-size="45.2" letter-spacing="-0.3"><tspan dy="-37.6">7</tspan><tspan dy="37.6">F</tspan><tspan dy="26.4">0</tspan><tspan dy="-26.4">-</tspan><tspan dy="-37.6">5</tspan><tspan dy="37.6">L</tspan><tspan dy="26.4">7</tspan></text></g>
<g transform="translate(873.1 1249.8) rotate(-90)"><text class="pl" font-size="44.6" letter-spacing="-0.3"><tspan dy="-37.6">7</tspan><tspan dy="37.6">F</tspan><tspan dy="26.4">0</tspan><tspan dy="-26.4">-</tspan><tspan dy="-37.6">5</tspan><tspan dy="37.6">D</tspan><tspan dy="26.4">4</tspan></text></g>
<g transform="translate(1208 1424.5) rotate(-90)"><text class="pl" font-size="44.6" letter-spacing="-0.3"><tspan dy="-37.6">7</tspan><tspan dy="37.6">F</tspan><tspan dy="26.4">0</tspan><tspan dy="-26.4">-</tspan><tspan dy="-37.6">5</tspan><tspan dy="37.6">D</tspan><tspan dy="26.4">3</tspan></text></g>
<g transform="translate(1730.2 1407) rotate(-90)"><text class="pl" font-size="44.6" letter-spacing="-0.3"><tspan dy="-37.6">7</tspan><tspan dy="37.6">F</tspan><tspan dy="26.4">0</tspan><tspan dy="-26.4">-</tspan><tspan dy="-37.6">5</tspan><tspan dy="37.6">D</tspan><tspan dy="26.4">1</tspan></text></g>
<g transform="translate(1868.4 1366.8) rotate(-90)"><text class="pl" font-size="44.6" letter-spacing="-0.3"><tspan dy="-37.6">7</tspan><tspan dy="37.6">F</tspan><tspan dy="26.4">1</tspan><tspan dy="-26.4">-</tspan><tspan dy="-37.6">5</tspan><tspan dy="37.6">D</tspan><tspan dy="26.4">1</tspan></text></g>
<g transform="translate(2083.1 1498.9) rotate(-90)"><text class="pl" font-size="44.6" letter-spacing="-0.3"><tspan dy="-37.6">7</tspan><tspan dy="37.6">F</tspan><tspan dy="26.4">0</tspan><tspan dy="-26.4">-</tspan><tspan dy="-37.6">5</tspan><tspan dy="37.6">D</tspan><tspan dy="26.4">0</tspan></text></g>
<line x1="1855.6" y1="120.1" x2="2005.4" y2="120.1" stroke="#000000" stroke-width="6" stroke-linecap="round"/>
<text x="2020" y="143.8" font-size="54">x=0</text>
<line x1="1855.6" y1="203.9" x2="2005.4" y2="203.9" stroke="#ff0000" stroke-width="6" stroke-linecap="round"/>
<text x="2020" y="227.6" font-size="54">x=10</text>
<line x1="1855.6" y1="287.7" x2="2005.4" y2="287.7" stroke="#00ff00" stroke-width="6" stroke-linecap="round"/>
<text x="2020" y="311.4" font-size="54">x=20</text>
<line x1="1855.6" y1="371.5" x2="2005.4" y2="371.5" stroke="#0000ff" stroke-width="6" stroke-linecap="round"/>
<text x="2020" y="395.2" font-size="54">x=30</text>
<line x1="1855.6" y1="455.3" x2="2005.4" y2="455.3" stroke="#00ffff" stroke-width="6" stroke-linecap="round"/>
<text x="2020" y="479" font-size="54">x=40</text>
<line x1="1855.6" y1="539.1" x2="2005.4" y2="539.1" stroke="#ff00ff" stroke-width="6" stroke-linecap="round"/>
<text x="2020" y="562.8" font-size="54">x=50</text>
</svg>
</body></html>
